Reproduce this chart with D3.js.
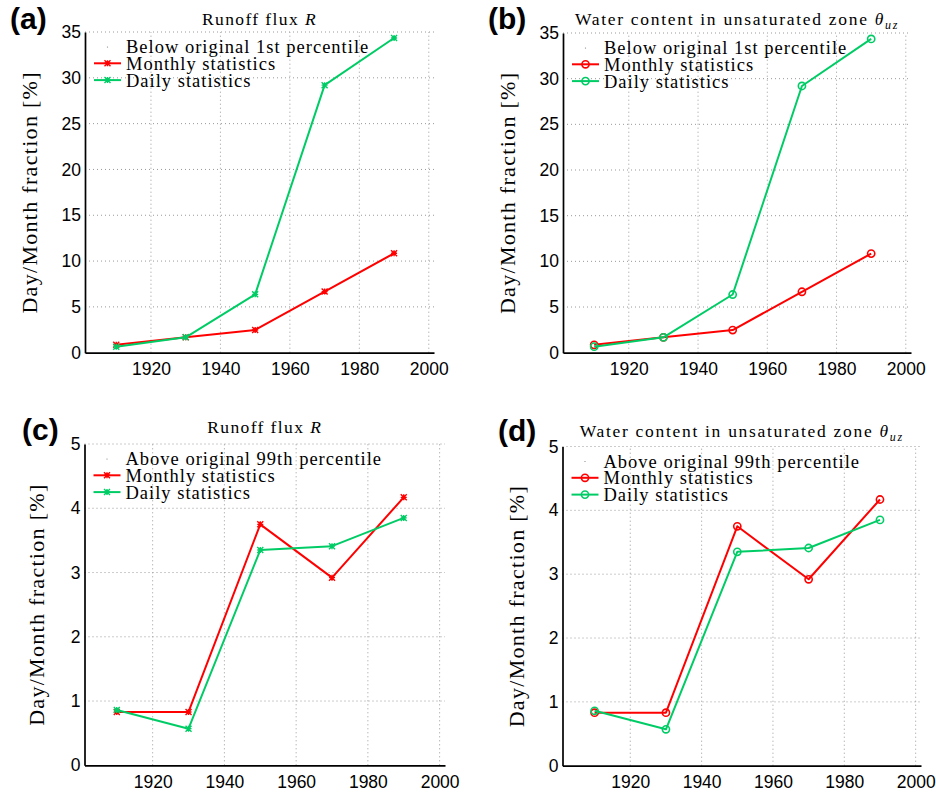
<!DOCTYPE html>
<html>
<head>
<meta charset="utf-8">
<script src="https://cdn.jsdelivr.net/npm/d3@7"></script>
<style>
  body { margin: 0; background: #fff; }
  .tick text { font-family: "Liberation Sans", Arial, sans-serif; font-size: 17.5px; fill: #000; }
</style>
</head>
<body>
<svg id="fig" width="936" height="794"></svg>
<script>

// data
const years = [1910, 1930, 1950, 1970, 1990];
const belowMonthly = [0.86, 1.68, 2.48, 6.67, 10.85];
const belowDaily = [0.66, 1.68, 6.37, 29.2, 34.35];
const aboveMonthly = [0.83, 0.83, 3.75, 2.92, 4.17];
const aboveDaily = [0.86, 0.57, 3.35, 3.41, 3.85];

const xTickValues = [1920, 1940, 1960, 1980, 2000];
const belowYTicks = [0, 5, 10, 15, 20, 25, 30, 35];
const aboveYTicks = [0, 1, 2, 3, 4, 5];

const seriesNames = ["Monthly statistics", "Daily statistics"];
const seriesColors = ["#ff0000", "#00cc66"];

const SERIF = "'Liberation Serif', 'Times New Roman', serif";

const svg = d3.select("#fig");
svg.append("rect").attr("width", 936).attr("height", 794).attr("fill", "#fff");

const panels = [
  { tag: "(a)", tagX: 10, tagY: 29, left: 85, right: 434, top: 32, bottom: 352.7,
    yMax: 35, yTicks: belowYTicks, monthly: belowMonthly, daily: belowDaily,
    marker: "star", title: "runoff", titleY: 25, ylabX: 37, header: "Below original 1st percentile" },
  { tag: "(b)", tagX: 488, tagY: 29, left: 563, right: 911, top: 33, bottom: 352.7,
    yMax: 35, yTicks: belowYTicks, monthly: belowMonthly, daily: belowDaily,
    marker: "circle", title: "water", titleY: 25, ylabX: 515, header: "Below original 1st percentile" },
  { tag: "(c)", tagX: 22, tagY: 440, left: 84.5, right: 445, top: 444, bottom: 765.3,
    yMax: 5, yTicks: aboveYTicks, monthly: aboveMonthly, daily: aboveDaily,
    marker: "star", title: "runoff", titleY: 433, ylabX: 44, header: "Above original 99th percentile" },
  { tag: "(d)", tagX: 498, tagY: 441, left: 562.5, right: 921, top: 446.5, bottom: 765.7,
    yMax: 5, yTicks: aboveYTicks, monthly: aboveMonthly, daily: aboveDaily,
    marker: "circle", title: "water", titleY: 437, ylabX: 524, header: "Above original 99th percentile" }
];

function drawMarker(g, type, cx, cy, color) {
  if (type === "circle") {
    g.append("circle").attr("cx", cx).attr("cy", cy).attr("r", 3.6)
      .attr("fill", "none").attr("stroke", color).attr("stroke-width", 1.6);
  } else {
    const s = 3;
    g.append("path")
      .attr("d", `M${cx - s},${cy}H${cx + s}M${cx},${cy - s}V${cy + s}` +
                 `M${cx - s},${cy - s}L${cx + s},${cy + s}M${cx - s},${cy + s}L${cx + s},${cy - s}`)
      .attr("stroke", color).attr("stroke-width", 1.4).attr("fill", "none");
  }
}

function drawTitle(g, p) {
  const cx = (p.left + p.right) / 2;
  const t = g.append("text").attr("x", cx).attr("y", p.titleY)
    .attr("text-anchor", "middle").attr("font-family", SERIF)
    .attr("font-size", 17.5).style("letter-spacing", p.title === "runoff" ? "1.4px" : "1.7px");
  if (p.title === "runoff") {
    t.append("tspan").text("Runoff flux ");
    t.append("tspan").attr("font-style", "italic").text("R");
  } else {
    t.append("tspan").text("Water content in unsaturated zone ");
    t.append("tspan").attr("font-style", "italic").text("θ");
    t.append("tspan").attr("font-style", "italic").attr("font-size", 12)
      .attr("dy", 4).text("uz");
  }
}

function drawPanel(p) {
  const g = svg.append("g");
  const x = d3.scaleLinear().domain([1901, 2001.5]).range([p.left, p.right]);
  const y = d3.scaleLinear().domain([0, p.yMax]).range([p.bottom, p.top]);

  // dotted grid
  g.append("g").selectAll("line").data(p.yTicks.filter(d => d > 0)).join("line")
    .attr("x1", p.left).attr("x2", p.right)
    .attr("y1", d => y(d)).attr("y2", d => y(d))
    .attr("stroke", "#999").attr("stroke-width", 1).attr("stroke-dasharray", "1,3");
  g.append("g").selectAll("line").data(xTickValues).join("line")
    .attr("x1", d => x(d)).attr("x2", d => x(d))
    .attr("y1", p.bottom).attr("y2", p.top)
    .attr("stroke", "#999").attr("stroke-width", 1).attr("stroke-dasharray", "1,3");

  // axes
  const xAxis = g.append("g").attr("transform", `translate(0,${p.bottom})`)
    .call(d3.axisBottom(x).tickValues(xTickValues).tickFormat(d3.format("d"))
      .tickSize(0).tickSizeOuter(0).tickPadding(10));
  const yAxis = g.append("g").attr("transform", `translate(${p.left},0)`)
    .call(d3.axisLeft(y).tickValues(p.yTicks).tickFormat(d3.format("d"))
      .tickSize(0).tickSizeOuter(0).tickPadding(4));
  [xAxis, yAxis].forEach(a => a.select(".domain").attr("stroke", "#000").attr("stroke-width", 1.7));

  // series lines
  const line = d3.line().x((d, i) => x(years[i])).y(d => y(d));
  [p.monthly, p.daily].forEach((vals, k) => {
    g.append("path").datum(vals).attr("d", line)
      .attr("fill", "none").attr("stroke", seriesColors[k]).attr("stroke-width", 2)
      .attr("stroke-linejoin", "round");
    vals.forEach((v, i) => drawMarker(g, p.marker, x(years[i]), y(v), seriesColors[k]));
  });

  // legend
  const lx = p.left, ly = p.top + 21, rowH = 16.8;
  const legText = (txt, row) => g.append("text")
    .attr("x", lx + 41).attr("y", ly + row * rowH)
    .attr("font-family", SERIF).attr("font-size", 18.5)
    .style("letter-spacing", "1px").text(txt);
  legText(p.header, 0);
  g.append("circle").attr("cx", lx + 22.5).attr("cy", ly - 6).attr("r", 0.6).attr("fill", "#777");
  seriesNames.forEach((name, k) => {
    const cy = ly + (k + 1) * rowH - 6.5;
    g.append("line").attr("x1", lx + 9).attr("x2", lx + 36).attr("y1", cy).attr("y2", cy)
      .attr("stroke", seriesColors[k]).attr("stroke-width", 2);
    drawMarker(g, p.marker, lx + 22.5, cy, seriesColors[k]);
    legText(name, k + 1);
  });

  drawTitle(g, p);

  // y label
  g.append("text")
    .attr("transform", `translate(${p.ylabX},${(p.top + p.bottom) / 2}) rotate(-90)`)
    .attr("text-anchor", "middle").attr("font-family", SERIF).attr("font-size", 22)
    .style("letter-spacing", "1.3px")
    .text("Day/Month fraction [%]");

  // panel tag
  g.append("text").attr("x", p.tagX).attr("y", p.tagY)
    .attr("font-family", "'Liberation Sans', Arial, sans-serif")
    .attr("font-weight", "bold").attr("font-size", 30).text(p.tag);
}

panels.forEach(drawPanel);
</script>
</body>
</html>
